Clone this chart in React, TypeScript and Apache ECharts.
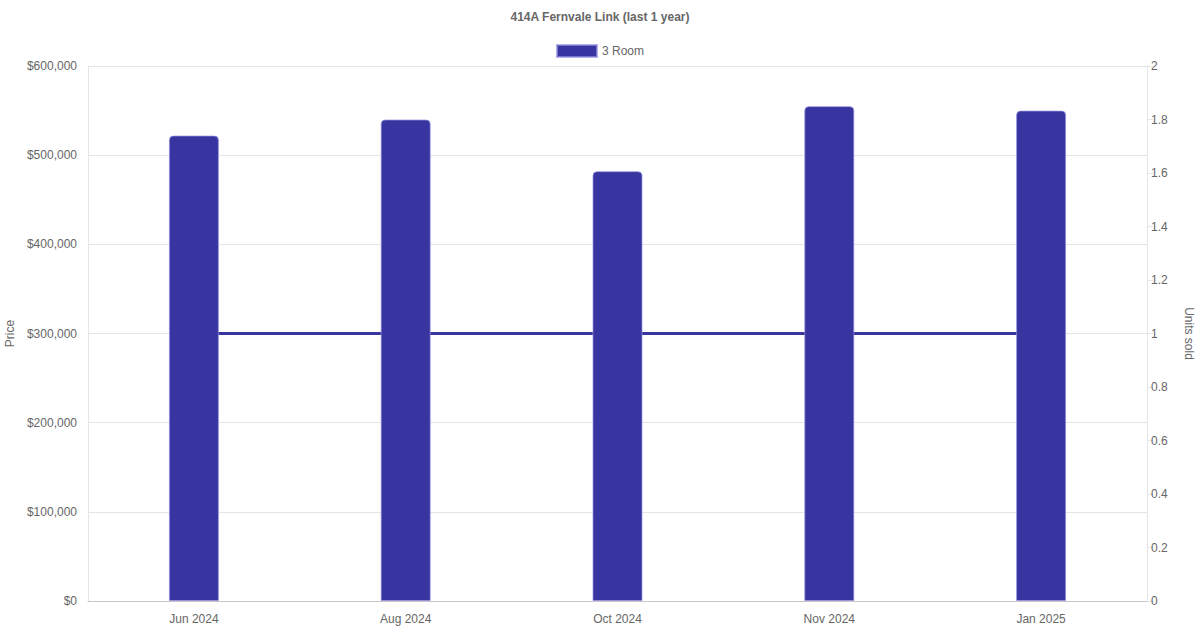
import { useEffect, useRef } from 'react'
import * as echarts from 'echarts'

// ── Data ──────────────────────────────────────────────────────────────────────
const MONTHS = ['Jun 2024', 'Aug 2024', 'Oct 2024', 'Nov 2024', 'Jan 2025']
const PRICES = [522000, 540000, 482000, 555000, 550000]
const UNITS_SOLD = [1, 1, 1, 1, 1]

const FONT = '"Liberation Sans", Arial, Helvetica, sans-serif'
const TEXT = '#666'
const GRID_LINE = '#e5e5e5'
const BAR = '#3835a0'

export default function App() {
  const chartRef = useRef<HTMLDivElement>(null)

  useEffect(() => {
    document.body.style.margin = '0'
    if (!chartRef.current) return
    const chart = echarts.init(chartRef.current, undefined, { renderer: 'svg' })

    chart.setOption({
      animation: false,
      backgroundColor: '#fff',
      textStyle: { fontFamily: FONT },
      title: {
        text: '414A Fernvale Link (last 1 year)',
        left: 'center',
        top: 6,
        textStyle: { fontSize: 12, fontWeight: 'bold', color: TEXT, fontFamily: FONT },
      },
      legend: {
        data: ['3 Room'],
        top: 39,
        left: 'center',
        icon: 'rect',
        itemWidth: 40,
        itemHeight: 12,
        itemGap: 6,
        textStyle: { fontSize: 12, color: TEXT, fontFamily: FONT },
      },
      // outerBoundsMode 'none' keeps the plot exactly where the grid says
      grid: { left: 88, right: 53, top: 66, bottom: 29, outerBoundsMode: 'none', containLabel: false },
      xAxis: {
        type: 'category',
        data: MONTHS,
        axisTick: { show: false },
        axisLine: { lineStyle: { color: '#c8c8c8' } },
        axisLabel: { fontSize: 12, color: TEXT, margin: 12, fontFamily: FONT },
        splitLine: { show: false },
      },
      yAxis: [
        {
          type: 'value',
          name: 'Price',
          nameLocation: 'middle',
          nameGap: 72,
          nameRotate: 90,
          nameTextStyle: { fontSize: 12, color: TEXT, fontFamily: FONT },
          min: 0,
          max: 600000,
          interval: 100000,
          axisLine: { show: true, lineStyle: { color: GRID_LINE } },
          axisTick: { show: false },
          axisLabel: {
            fontSize: 12,
            color: TEXT,
            margin: 11,
            fontFamily: FONT,
            formatter: (v: number) => '$' + v.toLocaleString('en-US'),
          },
          splitLine: { lineStyle: { color: GRID_LINE } },
        },
        {
          type: 'value',
          name: 'Units sold',
          nameLocation: 'middle',
          nameGap: 36,
          nameRotate: -90,
          nameTextStyle: { fontSize: 12, color: TEXT, fontFamily: FONT },
          position: 'right',
          min: 0,
          max: 2,
          interval: 0.2,
          axisLine: { show: true, lineStyle: { color: GRID_LINE } },
          axisTick: { show: true, length: 6, lineStyle: { color: GRID_LINE } },
          axisLabel: { fontSize: 12, color: TEXT, margin: 4, fontFamily: FONT },
          splitLine: { show: false },
        },
      ],
      series: [
        {
          type: 'line',
          name: 'Units sold',
          yAxisIndex: 1,
          data: UNITS_SOLD,
          showSymbol: false,
          z: 1,
          lineStyle: { color: BAR, width: 3 },
          itemStyle: { color: BAR },
        },
        {
          type: 'bar',
          name: '3 Room',
          yAxisIndex: 0,
          data: PRICES,
          barWidth: 50,
          z: 3,
          itemStyle: {
            color: BAR,
            borderColor: 'rgba(150,146,225,0.7)',
            borderWidth: 1,
            borderRadius: [4, 4, 0, 0],
          },
        },
      ],
    })

    return () => chart.dispose()
  }, [])

  return <div ref={chartRef} style={{ width: 1200, height: 630 }} />
}
